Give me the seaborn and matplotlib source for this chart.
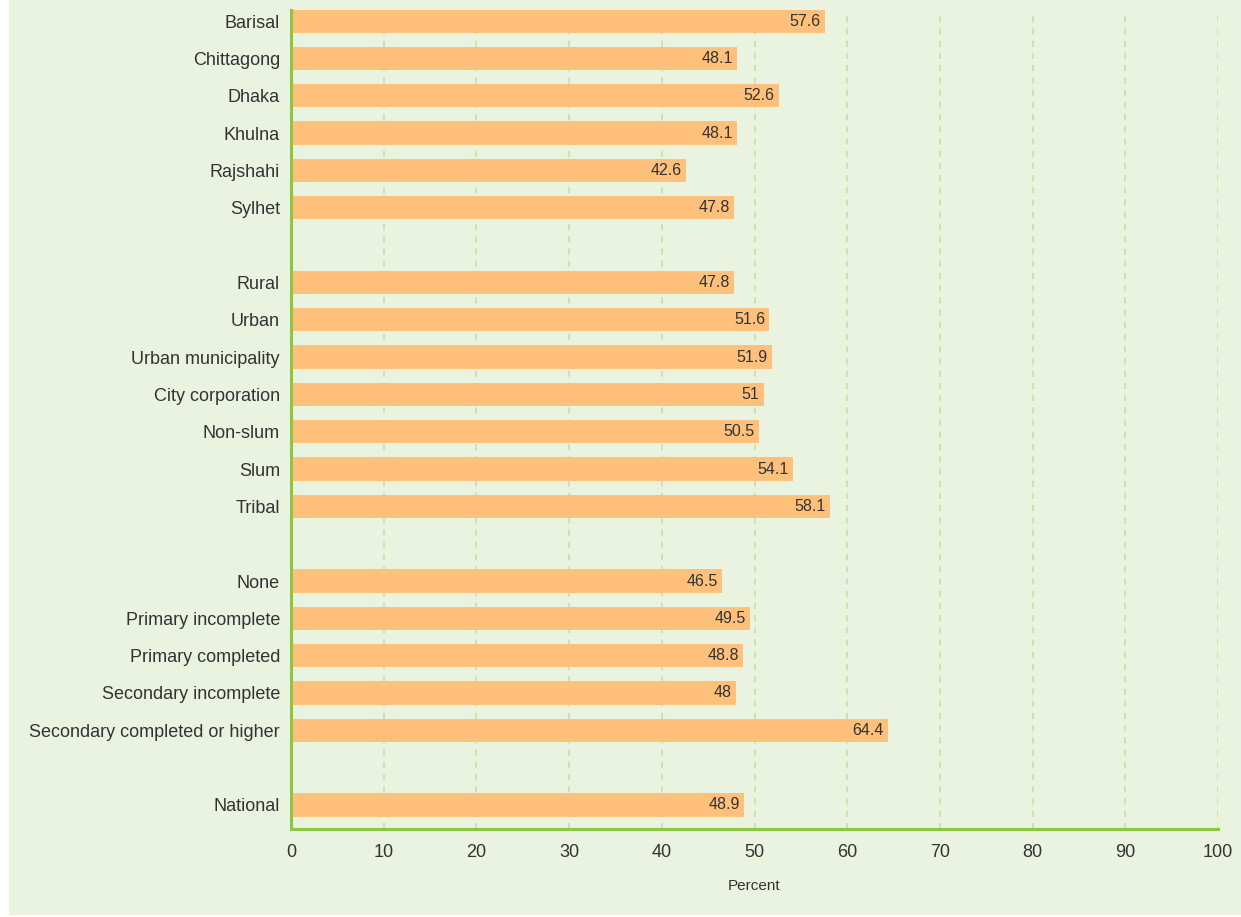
import matplotlib
matplotlib.use("Agg")
import matplotlib.pyplot as plt
import seaborn as sns
import pandas as pd
from matplotlib.patches import Rectangle

# ---- data ----
categories = [
    "Barisal", "Chittagong", "Dhaka", "Khulna", "Rajshahi", "Sylhet",
    "Rural", "Urban", "Urban municipality", "City corporation", "Non-slum", "Slum", "Tribal",
    "None", "Primary incomplete", "Primary completed", "Secondary incomplete",
    "Secondary completed or higher",
    "National",
]
values = [
    57.6, 48.1, 52.6, 48.1, 42.6, 47.8,
    47.8, 51.6, 51.9, 51.0, 50.5, 54.1, 58.1,
    46.5, 49.5, 48.8, 48.0, 64.4,
    48.9,
]
# display order with blank separator rows between groups
row_order = [
    "Barisal", "Chittagong", "Dhaka", "Khulna", "Rajshahi", "Sylhet", " ",
    "Rural", "Urban", "Urban municipality", "City corporation", "Non-slum", "Slum", "Tribal", "  ",
    "None", "Primary incomplete", "Primary completed", "Secondary incomplete",
    "Secondary completed or higher", "   ",
    "National",
]
x_ticks = [0, 10, 20, 30, 40, 50, 60, 70, 80, 90, 100]
x_label = "Percent"

# ---- style ----
BG = "#EAF3DF"
BAR = "#FEC07A"
AXIS_GREEN = "#8DC63F"
GRID_GREEN = "#C2E09A"
TEXT = "#333333"

sns.set_theme(style="white")
plt.rcParams["font.family"] = ["Liberation Sans", "DejaVu Sans"]

df = pd.DataFrame({"category": categories, "value": values})

fig = plt.figure(figsize=(12.41, 9.17), dpi=100, facecolor="white")
fig.patches.append(Rectangle((9 / 1241, 2 / 917), 1 - 9 / 1241, 1 - 2 / 917,
                             transform=fig.transFigure, facecolor=BG,
                             edgecolor="none", zorder=-10))
ax = fig.add_axes([291 / 1241, 1 - 829 / 917, (1218 - 291) / 1241, (829 - 10) / 917])
ax.set_facecolor(BG)
ax.patch.set_alpha(0)

sns.barplot(data=df, x="value", y="category", order=row_order, color=BAR,
            saturation=1, width=0.62, ax=ax, zorder=3, edgecolor="none", linewidth=0)

ax.set_xlim(0, 100)
ax.set_ylim(len(row_order) - 1 + 0.643, -0.295)
ax.set_xticks(x_ticks)
ax.set_xticklabels([str(t) for t in x_ticks])

# grid
ax.grid(False)
for t in x_ticks[1:]:
    ax.axvline(t, color=GRID_GREEN, linestyle=(0, (4, 4)), linewidth=1.1, zorder=1,
               ymin=0, ymax=0.997)

# spines
for s in ["top", "right"]:
    ax.spines[s].set_visible(False)
for s in ["left", "bottom"]:
    ax.spines[s].set_color(AXIS_GREEN)
    ax.spines[s].set_linewidth(2.2)
    ax.spines[s].set_zorder(5)

ax.tick_params(axis="y", length=0, pad=8, labelsize=13, labelcolor=TEXT)
ax.tick_params(axis="x", length=4.5, width=1, color=GRID_GREEN, pad=6.5,
               labelsize=13, labelcolor=TEXT, direction="out")
ax.set_ylabel("")
ax.set_xlabel(x_label, fontsize=11, color=TEXT, labelpad=13)

# value labels inside bar ends
for patch in ax.patches:
    w = patch.get_width()
    if w != w or w == 0:
        continue
    yc = patch.get_y() + patch.get_height() / 2
    ax.annotate(f"{w:g}", xy=(w, yc), xytext=(-3, 0), textcoords="offset points",
                ha="right", va="center", fontsize=11.5, color=TEXT, zorder=6)

fig.savefig("out.png", dpi=100, facecolor="white")
